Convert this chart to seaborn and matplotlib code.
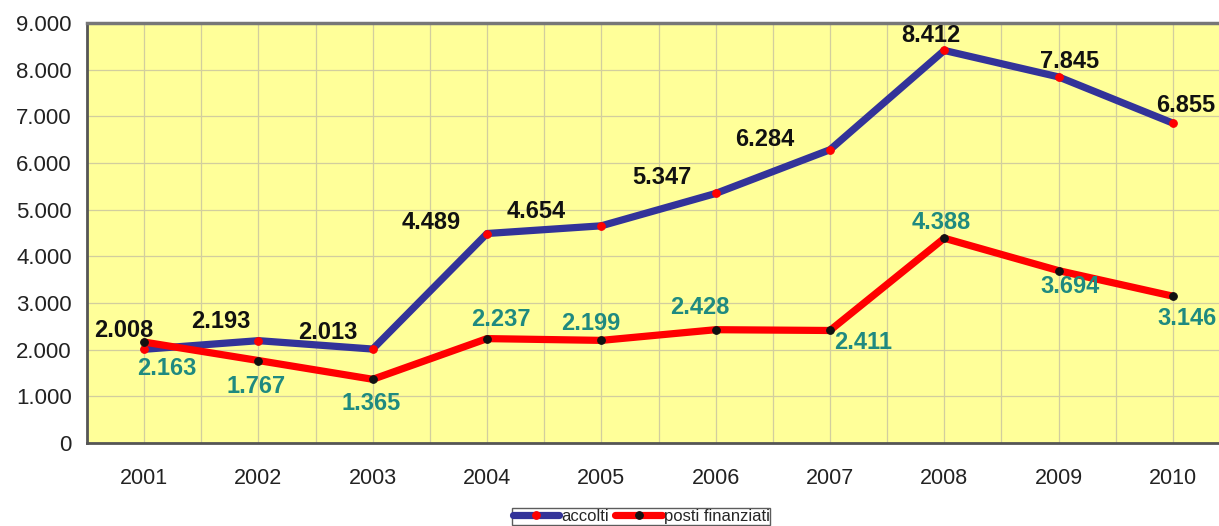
import matplotlib
matplotlib.use("Agg")
import matplotlib.pyplot as plt
import seaborn as sns
import numpy as np
import pandas as pd
from matplotlib.ticker import FuncFormatter, MultipleLocator

years = ["2001", "2002", "2003", "2004", "2005", "2006", "2007", "2008", "2009", "2010"]
accolti = [2008, 2193, 2013, 4489, 4654, 5347, 6284, 8412, 7845, 6855]
posti = [2163, 1767, 1365, 2237, 2199, 2428, 2411, 4388, 3694, 3146]

# label offsets in pixels (dx, dy)
acc_off = [(-20, 19), (-38, 19), (-45, 17), (-56, 11), (-65, 14), (-54, 16), (-65, 10), (-13, 15), (11, 15), (13, 18)]
pos_off = [(23, -26), (-2, -26), (-2, -24), (14, 19), (-11, 17), (-16, 22), (33, -12), (-3, 16), (11, -16), (14, -22)]

sns.set_style("white")
plt.rcParams["font.family"] = ["Liberation Sans", "DejaVu Sans"]

pos = np.arange(len(years))
df = pd.DataFrame({"pos": pos, "accolti": accolti, "posti": posti})

fig = plt.figure(figsize=(12.19, 5.26), dpi=100)
ax = fig.add_axes([87 / 1219, (526 - 443) / 526, (1230 - 87) / 1219, (443 - 23) / 526])
ax.set_facecolor("#FFFF99")

sns.lineplot(data=df, x="pos", y="accolti", ax=ax, color="#333399", lw=5.2,
             marker="o", markersize=5.5, markerfacecolor="#FF0000",
             markeredgecolor="#FF0000", label="accolti", zorder=4)
sns.lineplot(data=df, x="pos", y="posti", ax=ax, color="#FF0000", lw=5.2,
             marker="o", markersize=5.5, markerfacecolor="#111111",
             markeredgecolor="#111111", label="posti finanziati", zorder=4)

for i, v in enumerate(accolti):
    ax.annotate(f"{v:,}".replace(",", "."), (pos[i], v), xytext=acc_off[i],
                textcoords="offset pixels", ha="center", va="center",
                fontsize=17, fontweight="bold", color="#111111", zorder=6)
for i, v in enumerate(posti):
    ax.annotate(f"{v:,}".replace(",", "."), (pos[i], v), xytext=pos_off[i],
                textcoords="offset pixels", ha="center", va="center",
                fontsize=17, fontweight="bold", color="#1F8A80", zorder=6)

ax.set_xlim(-0.5, len(years) - 0.5)
ax.set_ylim(0, 9000)
ax.yaxis.set_major_locator(MultipleLocator(1000))
ax.yaxis.set_major_formatter(FuncFormatter(lambda v, p: f"{int(v):,}".replace(",", ".")))
ax.set_xticks(pos)
ax.set_xticklabels(years)
ax.set_xticks(np.arange(-0.5, len(years), 1.0), minor=True)
ax.tick_params(axis="x", which="major", length=0, pad=18, labelsize=15.5, labelcolor="#222222")
ax.tick_params(axis="x", which="minor", length=7, width=1.2, color="#555577", direction="out")
ax.tick_params(axis="y", which="major", length=7, width=1.2, color="#555555", direction="out",
               labelsize=16, labelcolor="#222222", pad=4)
ax.grid(True, which="major", axis="both", color="#D2CE9E", lw=0.9, zorder=0)
ax.grid(True, which="minor", axis="x", color="#D2CE9E", lw=0.9, zorder=0)
ax.set_axisbelow(True)
ax.set_xlabel("")
ax.set_ylabel("")

for s in ["left", "bottom"]:
    ax.spines[s].set_color("#555555")
    ax.spines[s].set_linewidth(2)
ax.spines["top"].set_color("#777777")
ax.spines["top"].set_linewidth(2.5)
ax.spines["right"].set_visible(False)

ax.get_legend().remove()
h, l = ax.get_legend_handles_labels()
leg = fig.legend(h, l, loc="upper center", bbox_to_anchor=(641 / 1219, (526 - 500) / 526),
                 ncol=2, fontsize=12, frameon=True, fancybox=False, edgecolor="#333333",
                 handlelength=2.8, handletextpad=0.1, columnspacing=0.4, borderpad=0.05,
                 numpoints=1)
leg.get_frame().set_linewidth(1.0)

fig.savefig("out.png", dpi=100)
